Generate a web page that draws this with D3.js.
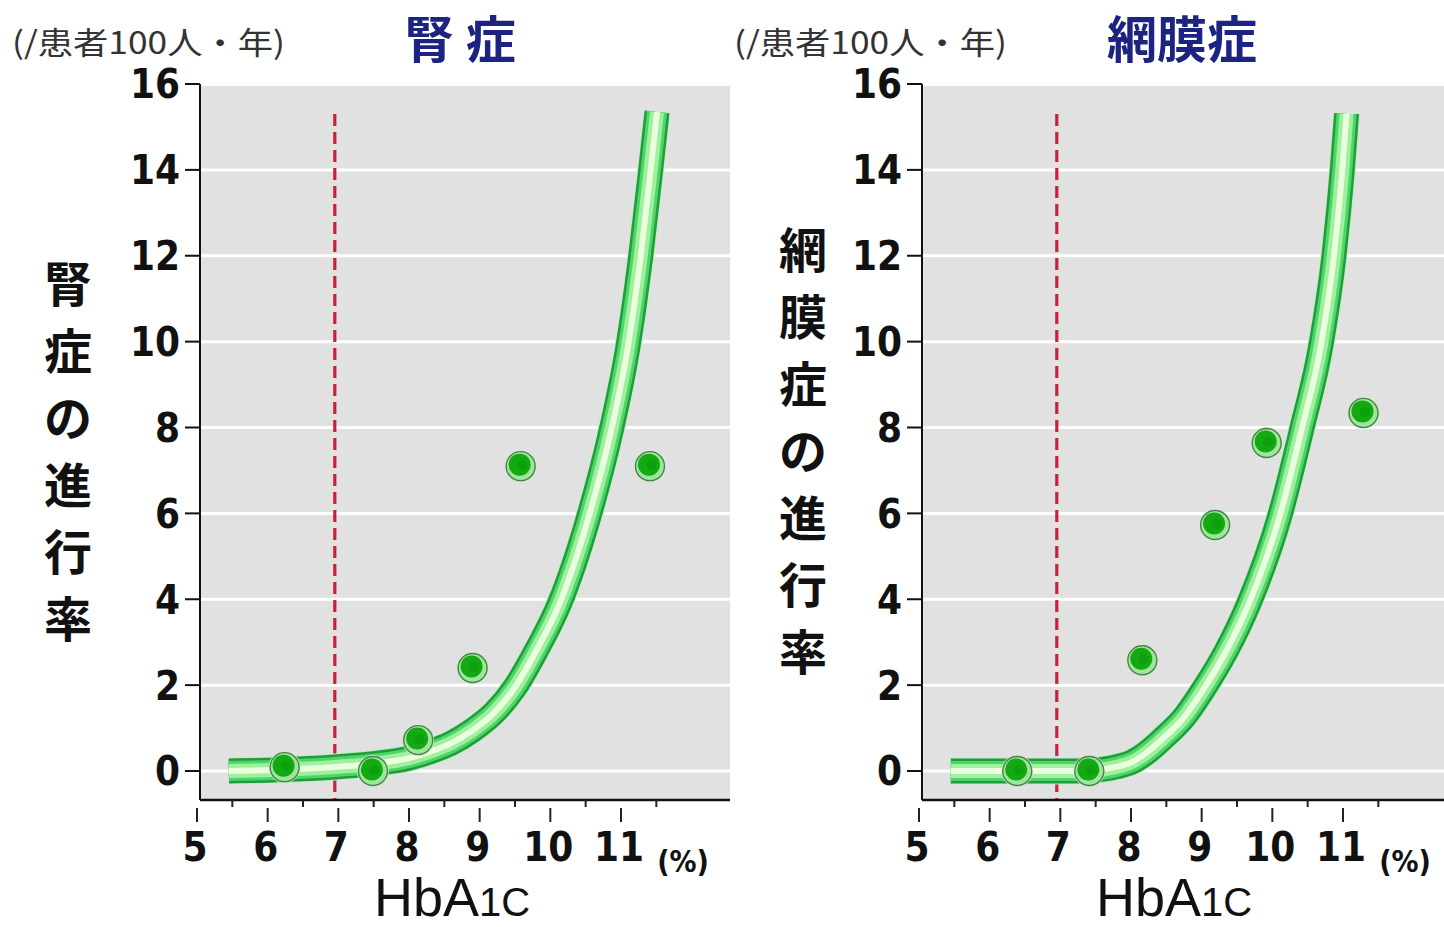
<!DOCTYPE html>
<html>
<head>
<meta charset="utf-8">
<script src="https://cdn.jsdelivr.net/npm/d3@7/dist/d3.min.js"></script>
<style>
  body { margin: 0; background: #fff; }
  svg { display: block; }
</style>
</head>
<body>
<svg id="chart" width="1444" height="927"></svg>
<script>
// Progression rate (per 100 patient-years) against HbA1c (%)
const xTicks = [5, 6, 7, 8, 9, 10, 11];
const xMinorTicks = [5.5, 6.5, 7.5, 8.5, 9.5, 10.5, 11.5];
const yTicks = [0, 2, 4, 6, 8, 10, 12, 14, 16];
const gridValues = [0, 2, 4, 6, 8, 10, 12, 14];
const thresholdX = 6.95;
const thresholdTop = 15.3;
const unitLabel = "(/患者100人・年)";
const xUnitLabel = "(%)";

// 腎症
const nephTitle = "腎 症";
const nephAxisTitle = "腎症の進行率";
const nephPointsX = [6.24, 7.49, 8.13, 8.90, 9.58, 11.41];
const nephPointsY = [0.09, 0.0, 0.72, 2.4, 7.1, 7.1];
const nephCurveX = [5.45, 6.0, 6.5, 7.0, 7.5, 8.0, 8.3, 8.6, 8.9, 9.2, 9.5, 9.8, 10.13, 10.54, 10.87, 11.1, 11.28, 11.42, 11.51];
const nephCurveY = [0.0, 0.02, 0.05, 0.1, 0.17, 0.3, 0.45, 0.65, 0.95, 1.35, 1.95, 2.8, 3.9, 5.9, 8.0, 9.9, 12.0, 14.0, 15.35];

// 網膜症
const retTitle = "網膜症";
const retAxisTitle = "網膜症の進行率";
const retPointsX = [6.39, 7.41, 8.16, 9.19, 9.92, 11.29];
const retPointsY = [0.0, 0.0, 2.58, 5.73, 7.64, 8.34];
const retCurveX = [5.45, 6.0, 6.5, 7.0, 7.5, 7.8, 8.0, 8.2, 8.46, 8.75, 9.02, 9.35, 9.67, 10.1, 10.42, 10.69, 10.87, 10.99, 11.05];
const retCurveY = [0.0, 0.0, 0.0, 0.0, 0.02, 0.1, 0.2, 0.4, 0.77, 1.25, 1.89, 2.8, 3.91, 5.91, 7.99, 9.94, 11.97, 14.0, 15.3];

const NUM_FONT = "'Liberation Sans Narrow', 'DejaVu Sans Condensed', 'Liberation Sans', sans-serif";
const CJK_FONT = "'Noto Sans CJK JP', 'Noto Sans CJK SC', sans-serif";
const LATIN_FONT = "'Liberation Sans', Arial, sans-serif";

const svg = d3.select("#chart");

function drawPanel(cfg) {
  const ax = cfg.axisX;          // position of the vertical axis
  const plotRight = ax + 530;
  const plotTop = 86, plotBottom = 800;

  const x = d3.scaleLinear().domain([5, 11]).range([ax - 3, ax - 3 + 424]);
  const y = d3.scaleLinear().domain([0, 16]).range([771, 84]);

  const g = svg.append("g");
  const clipId = "clip-" + cfg.key;
  svg.append("clipPath").attr("id", clipId)
    .append("rect").attr("x", ax + 1).attr("y", plotTop)
    .attr("width", plotRight - ax - 1).attr("height", plotBottom - plotTop);

  // plot background
  g.append("rect")
    .attr("x", ax + 1).attr("y", plotTop)
    .attr("width", plotRight - ax - 1).attr("height", plotBottom - plotTop)
    .attr("fill", "#e1e1e1");

  // white gridlines
  g.selectAll("line.grid").data(gridValues).join("line")
    .attr("class", "grid")
    .attr("x1", ax).attr("x2", plotRight)
    .attr("y1", d => y(d)).attr("y2", d => y(d))
    .attr("stroke", "#ffffff").attr("stroke-width", 3);

  const plot = g.append("g").attr("clip-path", `url(#${clipId})`);

  // HbA1c 7% threshold
  plot.append("line")
    .attr("x1", x(thresholdX)).attr("x2", x(thresholdX))
    .attr("y1", y(thresholdTop)).attr("y2", plotBottom)
    .attr("stroke", "#c8223a").attr("stroke-width", 3.2)
    .attr("stroke-dasharray", "12 6");

  // trend tube
  const curve = cfg.curveX.map((v, i) => [v, cfg.curveY[i]]);
  const line = d3.line().x(d => x(d[0])).y(d => y(d[1])).curve(d3.curveMonotoneX);
  const tubeLayers = [
    { w: 27, c: "#bdf0bd" },
    { w: 25, c: "#1f9c3e" },
    { w: 20, c: "#4fd466" },
    { w: 14, c: "#9cf09e" },
    { w: 6,  c: "#eaffdc" }
  ];
  tubeLayers.forEach(l => {
    plot.append("path").datum(curve)
      .attr("d", line)
      .attr("fill", "none")
      .attr("stroke", l.c)
      .attr("stroke-width", l.w)
      .attr("stroke-linecap", "butt")
      .attr("stroke-linejoin", "round");
  });

  // observed points
  const pts = cfg.pointsX.map((v, i) => [v, cfg.pointsY[i]]);
  const dots = plot.selectAll("g.dot").data(pts).join("g").attr("class", "dot")
    .attr("transform", d => `translate(${x(d[0])},${y(d[1])})`);
  dots.append("circle").attr("r", 16).attr("fill", "#c9f5c2").attr("opacity", 0.85);
  dots.append("circle").attr("r", 14.5).attr("fill", "#9ee79a")
    .attr("stroke", "#4d7d52").attr("stroke-width", 1.4);
  dots.append("circle").attr("r", 11).attr("cx", -1).attr("cy", -1.5).attr("fill", "#12a912");
  dots.append("circle").attr("r", 5).attr("cx", 1.5).attr("cy", -1).attr("fill", "#0c9a0c").attr("opacity", 0.6);

  // y axis
  g.append("line")
    .attr("x1", ax).attr("x2", ax).attr("y1", y(16)).attr("y2", plotBottom)
    .attr("stroke", "#111").attr("stroke-width", 2);
  g.selectAll("line.ytick").data(yTicks).join("line")
    .attr("class", "ytick")
    .attr("x1", ax - 15).attr("x2", ax)
    .attr("y1", d => y(d)).attr("y2", d => y(d))
    .attr("stroke", "#111").attr("stroke-width", 2);
  g.selectAll("text.ylab").data(yTicks).join("text")
    .attr("class", "ylab")
    .attr("x", ax - 20).attr("y", d => y(d)).attr("dy", "0.36em")
    .attr("text-anchor", "end")
    .attr("font-family", NUM_FONT).attr("font-weight", "bold")
    .attr("font-size", 40).attr("fill", "#111")
    .text(d => d);

  // x axis
  g.append("line")
    .attr("x1", ax).attr("x2", plotRight).attr("y1", plotBottom).attr("y2", plotBottom)
    .attr("stroke", "#111").attr("stroke-width", 2.5);
  g.selectAll("line.xminor").data(xMinorTicks).join("line")
    .attr("class", "xminor")
    .attr("x1", d => x(d)).attr("x2", d => x(d))
    .attr("y1", plotBottom).attr("y2", plotBottom + 7)
    .attr("stroke", "#222").attr("stroke-width", 2);
  g.selectAll("line.xmajor").data(xTicks).join("line")
    .attr("class", "xmajor")
    .attr("x1", d => x(d)).attr("x2", d => x(d))
    .attr("y1", plotBottom + 8).attr("y2", plotBottom + 22)
    .attr("stroke", "#222").attr("stroke-width", 2);
  g.selectAll("text.xlab").data(xTicks).join("text")
    .attr("class", "xlab")
    .attr("x", d => x(d) - 2).attr("y", 861)
    .attr("text-anchor", "middle")
    .attr("font-family", NUM_FONT).attr("font-weight", "bold")
    .attr("font-size", 40).attr("fill", "#111")
    .text(d => d);
  g.append("text")
    .attr("x", ax + 483).attr("y", 872)
    .attr("text-anchor", "middle")
    .attr("font-family", NUM_FONT).attr("font-weight", "bold")
    .attr("font-size", 30).attr("fill", "#111")
    .text(xUnitLabel);

  // HbA1c axis title
  const xt = g.append("text")
    .attr("x", ax + 252).attr("y", 916)
    .attr("text-anchor", "middle")
    .attr("font-family", LATIN_FONT).attr("fill", "#111");
  xt.append("tspan").attr("font-size", 54).text("HbA");
  xt.append("tspan").attr("font-size", 40).text("1C");

  // unit label
  g.append("text")
    .attr("x", ax - 188).attr("y", 54)
    .attr("font-family", CJK_FONT).attr("font-size", 31)
    .attr("fill", "#333")
    .attr("textLength", 273).attr("lengthAdjust", "spacingAndGlyphs")
    .text(unitLabel);

  // panel title
  g.append("text")
    .attr("x", ax + 260).attr("y", 58)
    .attr("text-anchor", "middle")
    .attr("font-family", CJK_FONT).attr("font-weight", "bold")
    .attr("font-size", 50).attr("fill", "#1d2380")
    .text(cfg.title);

  // vertical axis title, one character per line
  const chars = Array.from(cfg.axisTitle);
  const pitch = 67;
  const startY = 452 - (chars.length - 1) * pitch / 2;
  g.selectAll("text.vt").data(chars).join("text")
    .attr("class", "vt")
    .attr("x", cfg.titleX).attr("y", (d, i) => startY + i * pitch)
    .attr("dy", "0.36em")
    .attr("text-anchor", "middle")
    .attr("font-family", CJK_FONT).attr("font-weight", "bold")
    .attr("font-size", 48).attr("fill", "#111")
    .text(d => d);
}

drawPanel({
  key: "neph", axisX: 200, titleX: 68,
  title: nephTitle, axisTitle: nephAxisTitle,
  pointsX: nephPointsX, pointsY: nephPointsY,
  curveX: nephCurveX, curveY: nephCurveY
});
drawPanel({
  key: "ret", axisX: 922, titleX: 803,
  title: retTitle, axisTitle: retAxisTitle,
  pointsX: retPointsX, pointsY: retPointsY,
  curveX: retCurveX, curveY: retCurveY
});
</script>
</body>
</html>
